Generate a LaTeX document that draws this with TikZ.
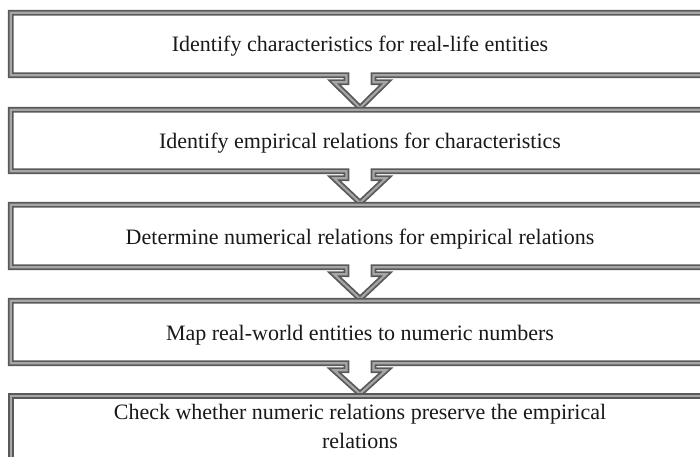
\documentclass[tikz,border=0pt]{standalone}
\usepackage{fontspec}
\setmainfont{Liberation Serif}
\usetikzlibrary{calc}
\begin{document}
\begin{tikzpicture}[x=1pt,y=-1pt,
  frame/.style={draw=black!65, line width=1.8pt, double=black!35,
                double distance=2.2pt, fill=white, line join=miter},
  boxshape/.style={rectangle, inner sep=0pt, minimum width=698.2pt},
  steptext/.style={font=\fontsize{22}{29}\selectfont, align=center,
                   inner sep=0pt, text=black!90}]
\useasboundingbox (0,0) rectangle (700,456);
\clip (0,0) rectangle (700,456);

% outlines of the five stages (shape only)
\node[boxshape, minimum height=62.2pt] (b1) at (360,44)    {};
\node[boxshape, minimum height=61.2pt] (b2) at (360,140.5) {};
\node[boxshape, minimum height=62.2pt] (b3) at (360,236)   {};
\node[boxshape, minimum height=62.2pt] (b4) at (360,332)   {};
\node[boxshape, minimum height=84.1pt] (b5) at (360,437.95) {};

% a stage box whose bottom edge runs out into a hollow arrow down to the next box
\newcommand\flowbox[2]{%
  \draw[frame] (#1.south west) -- (#1.north west) -- (#1.north east) -- (#1.south east)
    -- ($(#1.south)+(13.5,0)$) -- ($(#1.south)+(13.5,7)$) -- ($(#1.south)+(26,7)$)
    -- ($(#2.north)+(0,-1.9)$)
    -- ($(#1.south)+(-26,7)$) -- ($(#1.south)+(-13.5,7)$) -- ($(#1.south)+(-13.5,0)$)
    -- cycle;}

\flowbox{b1}{b2}
\flowbox{b2}{b3}
\flowbox{b3}{b4}
\flowbox{b4}{b5}
\draw[frame] (b5.south west) rectangle (b5.north east);

% stage texts
\node[steptext, anchor=base] (t1) at (360,51)  {Identify characteristics for real-life entities};
\node[steptext, anchor=base] (t2) at (360,148) {Identify empirical relations for characteristics};
\node[steptext, anchor=base] (t3) at (360,244) {Determine numerical relations for empirical relations};
\node[steptext, anchor=base] (t4) at (360,340) {Map real-world entities to numeric numbers};
\node[steptext] (t5) at (360,426) {Check whether numeric relations preserve the empirical\\relations};
\end{tikzpicture}
\end{document}
